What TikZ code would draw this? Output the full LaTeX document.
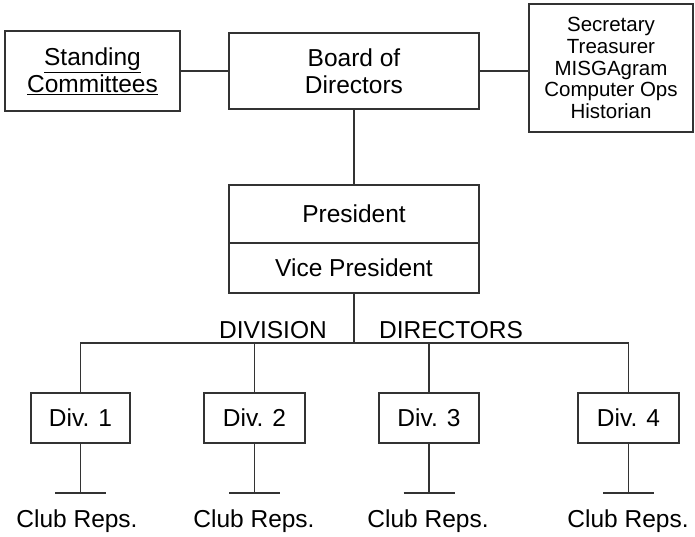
\documentclass[tikz,border=0pt]{standalone}
\usepackage{fontspec}
\setmainfont{Liberation Sans}
\begin{document}
\begin{tikzpicture}[x=1pt,y=-1pt,
  ln/.style={line width=1.2pt,draw=black!80},
  box/.style={ln,rectangle,inner sep=0pt,align=center,font=\fontsize{24.5}{27}\selectfont},
  lbl/.style={inner sep=0pt,font=\fontsize{24.5}{27}\selectfont}]
\useasboundingbox (0,0) rectangle (695,536);
\node[box,minimum width=175pt,minimum height=80pt] (sc) at (92.5,71) {\underline{Standing}\\\underline{Committees}};
\node[box,minimum width=250pt,minimum height=76pt] (bod) at (354,71) {Board of\\Directors};
\node[box,minimum width=164pt,minimum height=128pt,font=\fontsize{20.5}{21.7}\selectfont] (sec) at (611,68) {Secretary\\Treasurer\\MISGAgram\\Computer Ops\\Historian};
\node[box,minimum width=250pt,minimum height=58pt] (pres) at (354,214) {President};
\node[box,minimum width=250pt,minimum height=50pt] (vp) at (354,268) {Vice President};
\coordinate (bus) at (354,343);
\node[box,minimum width=99pt,minimum height=50pt] (d1) at (80.5,418) {Div. 1};
\node[box,minimum width=101pt,minimum height=50pt] (d2) at (254.5,418) {Div. 2};
\node[box,minimum width=100pt,minimum height=50pt] (d3) at (429,418) {Div. 3};
\node[box,minimum width=101pt,minimum height=50pt] (d4) at (628.5,418) {Div. 4};
\node[lbl] (divl) at (273,330) {DIVISION};
\node[lbl] (dirl) at (451,330) {DIRECTORS};
\coordinate (t1) at (80.5,493);
\coordinate (t2) at (254.5,493);
\coordinate (t3) at (429,493);
\coordinate (t4) at (628.5,493);
\node[lbl] (c1) at (77,521) {Club Reps.};
\node[lbl] (c2) at (254,521) {Club Reps.};
\node[lbl] (c3) at (428,521) {Club Reps.};
\node[lbl] (c4) at (628,521) {Club Reps.};
\draw[ln] (sc.east) -- (bod.west);
\draw[ln] (bod.east) -- (bod.east -| sec.west);
\draw[ln] (bod.south) -- (pres.north);
\draw[ln] (vp.south) -- (bus);
\draw[ln] (d1.north) -- (d1.north |- bus) -- (d4.north |- bus) -- (d4.north);
\draw[ln] (d2.north) -- (d2.north |- bus);
\draw[ln] (d3.north) -- (d3.north |- bus);
\foreach \i in {1,2,3,4}{
  \draw[ln] (d\i.south) -- (t\i);
  \draw[ln] ([xshift=-25.5pt]t\i) -- ([xshift=25.5pt]t\i);
}
\end{tikzpicture}
\end{document}
